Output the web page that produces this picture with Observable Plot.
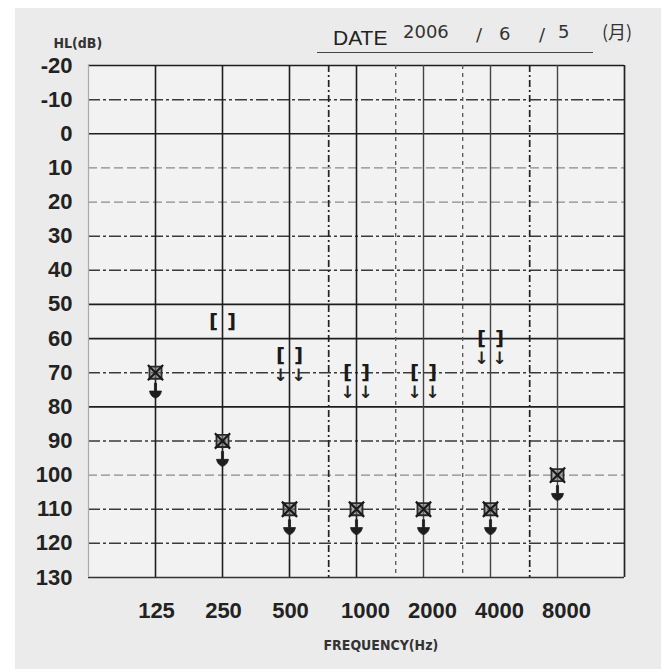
<!DOCTYPE html>
<html><head><meta charset="utf-8">
<script src="https://cdn.jsdelivr.net/npm/d3@7"></script>
<script src="https://cdn.jsdelivr.net/npm/@observablehq/plot@0.6"></script>
<style>
html,body{margin:0;padding:0;background:#fff;}
#wrap{position:relative;width:661px;height:669px;overflow:hidden;background:#fff;}
#paper{position:absolute;left:15px;top:8px;right:0;bottom:0;background:#ebebeb;}
#chart{position:absolute;left:0;top:0;}
#uline{position:absolute;left:317px;top:52px;width:276px;height:0;border-top:1.6px solid #444;}
.h{position:absolute;white-space:nowrap;line-height:1;}
.dt{font-family:"Liberation Sans",sans-serif;font-size:21px;color:#222;}
.hw{font-family:"DejaVu Sans",sans-serif;font-size:18px;color:#333;}
.hwj{font-family:"Noto Sans CJK JP",sans-serif;font-size:18px;color:#333;}
</style></head>
<body>
<div id="wrap">
  <div id="paper"></div>
  <div id="chart"></div>
  <div id="uline"></div>
  <div class="h dt" style="left:333px;top:27px;">DATE</div>
  <div class="h hw" style="left:403px;top:23px;">2006</div>
  <div class="h hw" style="left:476px;top:26px;">/</div>
  <div class="h hw" style="left:499px;top:25px;">6</div>
  <div class="h hw" style="left:539px;top:26px;">/</div>
  <div class="h hw" style="left:558px;top:23px;">5</div>
  <div class="h hwj" style="left:602px;top:22px;">(月)</div>
</div>
<script>
// ---- data ----
const frequencies = [125, 250, 500, 1000, 2000, 4000, 8000];
const freqLabels = ["125", "250", "500", "1000", "2000", "4000", "8000"];
const halfOctaves = [750, 1500, 3000, 6000];
const levels = [-20, -10, 0, 10, 20, 30, 40, 50, 60, 70, 80, 90, 100, 110, 120, 130];
// combined air-conduction symbol (no response, arrow)
const acFreq = [125, 250, 500, 1000, 2000, 4000, 8000];
const acLevel = [70, 90, 110, 110, 110, 110, 100];
// masked bone conduction [ ]
const bcFreq = [250, 500, 1000, 2000, 4000];
const bcLevel = [55, 65, 70, 70, 60];
const bcNoResponse = [false, true, true, true, true];

// grid groups
const solidFreq = [125, 250, 500, 1000];
const lightSolidFreq = [2000, 4000, 8000];
const dashDotFreq = [750, 6000];
const dashFreq = [1500, 3000];
const solidLevels = [-20, 0, 50, 60, 80];
const dashLevels = [-10, 30, 40, 70, 90, 110, 120];
const lightLevels = [10, 20, 100];

const ac = acFreq.map((f, i) => ({f, v: acLevel[i]}));
const bc = bcFreq.map((f, i) => ({f, v: bcLevel[i], nr: bcNoResponse[i]}));
const bcNR = bc.filter(d => d.nr);
const xt = frequencies.map((f, i) => ({f, label: freqLabels[i]}));

const downArrow = {
  draw(ctx, size) {
    const r = Math.sqrt(size / Math.PI);
    ctx.moveTo(-0.14 * r, -r);
    ctx.lineTo(0.14 * r, -r);
    ctx.lineTo(0.14 * r, 0.05 * r);
    ctx.lineTo(0.8 * r, 0.05 * r);
    ctx.quadraticCurveTo(0.65 * r, 0.8 * r, 0, r);
    ctx.quadraticCurveTo(-0.65 * r, 0.8 * r, -0.8 * r, 0.05 * r);
    ctx.lineTo(-0.14 * r, 0.05 * r);
    ctx.closePath();
  }
};

const numFont = "Liberation Sans, Arial, sans-serif";

const chart = Plot.plot({
  width: 661,
  height: 669,
  marginLeft: 88,
  marginRight: 37,
  marginTop: 65,
  marginBottom: 92,
  style: {background: "transparent", overflow: "visible"},
  x: {type: "log", domain: [62.5, 16000], axis: null},
  y: {domain: [-20, 130], reverse: true, axis: null},
  marks: [
    Plot.frame({fill: "#f2f2f2", stroke: null}),
    Plot.ruleY(lightLevels, {stroke: "#8a8a8a", strokeWidth: 1.2, strokeDasharray: "9,4"}),
    Plot.ruleY(dashLevels, {stroke: "#3a3a3a", strokeWidth: 1.5, strokeDasharray: "12,3,3,3"}),
    Plot.ruleY(solidLevels, {stroke: "#1e1e1e", strokeWidth: 1.7}),
    Plot.ruleY([130], {stroke: "#333", strokeWidth: 1.6}),
    Plot.ruleX(dashFreq, {stroke: "#555", strokeWidth: 1.3, strokeDasharray: "4,4"}),
    Plot.ruleX(dashDotFreq, {stroke: "#222", strokeWidth: 1.7, strokeDasharray: "7,3,2,3"}),
    Plot.ruleX(lightSolidFreq, {stroke: "#444", strokeWidth: 1.4}),
    Plot.ruleX(solidFreq, {stroke: "#1e1e1e", strokeWidth: 1.6}),
    Plot.ruleX([62.5], {stroke: "#aaa", strokeWidth: 1.2}),
    Plot.ruleX([16000], {stroke: "#222", strokeWidth: 1.7}),
    // y tick labels
    Plot.text(levels, {y: d => d, text: d => String(d), frameAnchor: "left", textAnchor: "end", dx: -16,
      fontSize: 22, fontWeight: "bold", fontFamily: numFont, fill: "#222"}),
    // x tick labels
    Plot.text(xt.filter(d => d.label.length < 4), {x: "f", text: "label", frameAnchor: "bottom", dy: 40, dx: 1,
      fontSize: 22, fontWeight: "bold", fontFamily: numFont, fill: "#222"}),
    Plot.text(xt.filter(d => d.label.length >= 4), {x: "f", text: "label", frameAnchor: "bottom", dy: 40, dx: 9,
      fontSize: 22, fontWeight: "bold", fontFamily: numFont, fill: "#222"}),
    Plot.text(["FREQUENCY(Hz)"], {text: d => d, frameAnchor: "bottom-left", dx: 235, dy: 72,
      fontSize: 14, fontWeight: "bold", fontFamily: "DejaVu Sans Condensed, DejaVu Sans", fill: "#333"}),
    Plot.text(["HL(dB)"], {text: d => d, frameAnchor: "top-left", dx: -35, dy: -27,
      fontSize: 14, fontWeight: "bold", fontFamily: "DejaVu Sans Condensed, DejaVu Sans", fill: "#333"}),
    // combined air-conduction symbols
    Plot.dot(ac, {x: "f", y: "v", symbol: "square", r: 6.8, stroke: "#2a2a2a", strokeWidth: 1.8, fill: "#7a7a7a", fillOpacity: 0.6}),
    Plot.dot(ac, {x: "f", y: "v", symbol: "times", r: 7, stroke: "#1a1a1a", strokeWidth: 2.2}),
    Plot.dot(ac, {x: "f", y: "v", symbol: downArrow, r: 7.5, dy: 18, fill: "#1e1e1e", stroke: "#1e1e1e", strokeWidth: 0.8}),
    // masked bone conduction brackets
    Plot.text(bc, {x: "f", y: "v", text: () => "[", dx: -9, fontSize: 20, fontWeight: "bold", fontFamily: "DejaVu Sans", fill: "#1a1a1a"}),
    Plot.text(bc, {x: "f", y: "v", text: () => "]", dx: 9, fontSize: 20, fontWeight: "bold", fontFamily: "DejaVu Sans", fill: "#1a1a1a"}),
    Plot.text(bcNR, {x: "f", y: "v", text: () => "↓", dx: -9, dy: 20, fontSize: 17, fontWeight: "bold", fontFamily: "DejaVu Sans", fill: "#222"}),
    Plot.text(bcNR, {x: "f", y: "v", text: () => "↓", dx: 9, dy: 20, fontSize: 17, fontWeight: "bold", fontFamily: "DejaVu Sans", fill: "#222"})
  ]
});
document.getElementById("chart").appendChild(chart);
</script>
</body></html>
